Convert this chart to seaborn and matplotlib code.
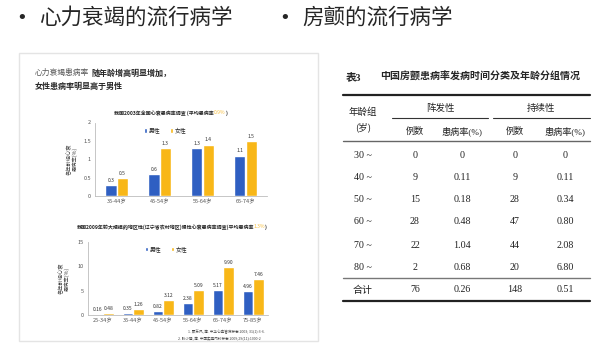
import pandas as pd
import matplotlib.pyplot as plt
import seaborn as sns
from matplotlib.lines import Line2D
from matplotlib.patches import Rectangle

# chart 1: 2003 survey
ages1 = ["35-44岁", "45-54岁", "55-64岁", "65-74岁"]
male1 = [0.3, 0.6, 1.3, 1.1]
female1 = [0.5, 1.3, 1.4, 1.5]

# chart 2: 2009 Liaoning survey
ages2 = ["25-34岁", "35-44岁", "45-54岁", "55-64岁", "65-74岁", "75-85岁"]
male2 = [0.16, 0.35, 0.82, 2.38, 5.17, 4.96]
female2 = [0.48, 1.26, 3.12, 5.09, 9.90, 7.46]

# table 3
row_labels = ["30 ~", "40 ~", "50 ~", "60 ~", "70 ~", "80 ~", "合计"]
par_n = ["0", "9", "15", "28", "22", "2", "76"]
par_rate = ["0", "0.11", "0.18", "0.48", "1.04", "0.68", "0.26"]
per_n = ["0", "9", "28", "47", "44", "20", "148"]
per_rate = ["0", "0.11", "0.34", "0.80", "2.08", "6.80", "0.51"]

sns.set_style("white")
plt.rcParams['font.family'] = ['Noto Sans CJK SC', 'DejaVu Sans']

W, H = 610, 354
fig = plt.figure(figsize=(6.1, 3.54), dpi=100)


def fx(x):
    return x / W


def fy(y):
    return 1 - y / H


def txt(x, y, s, **kw):
    fig.text(fx(x), fy(y), s, **kw)


def hline(x0, x1, y, lw=1.0, color="#333333"):
    fig.add_artist(Line2D([fx(x0), fx(x1)], [fy(y), fy(y)], lw=lw, color=color,
                          transform=fig.transFigure))


palette = {"男性": "#2f5fc2", "女性": "#f8b718"}

# bullets
txt(22, 18, "•", fontsize=13, ha="center", va="center", family="DejaVu Sans")
txt(39, 18, "心力衰竭的流行病学", fontsize=15.5, va="center")
txt(285, 18, "•", fontsize=13, ha="center", va="center", family="DejaVu Sans")
txt(302, 18, "房颤的流行病学", fontsize=15.5, va="center")

# left panel frame
fig.add_artist(Rectangle((fx(19), fy(341)), fx(318) - fx(19), fy(53) - fy(341),
                         transform=fig.transFigure, fill=False, ec="#e4e4e4", lw=1))

txt(35, 73, "心力衰竭患病率", fontsize=5.6, va="center", color="#555555")
txt(91, 73, "随年龄增高明显增加，", fontsize=5.8, va="center", fontweight="bold")
txt(35, 86, "女性患病率明显高于男性", fontsize=5.8, va="center", fontweight="bold")


def draw_chart(rect, ages, male, female, ymax, ticks, fmt, width, leg_pos):
    df = pd.DataFrame({
        "age": ages * 2,
        "sex": ["男性"] * len(ages) + ["女性"] * len(ages),
        "rate": male + female,
    })
    ax = fig.add_axes(rect)
    sns.barplot(data=df, x="age", y="rate", hue="sex", palette=palette,
                width=width, ax=ax, saturation=1)
    for c in ax.containers:
        ax.bar_label(c, fmt=fmt, fontsize=3.6, padding=1.5, color="#333333")
    ax.set_ylim(0, ymax)
    ax.set_yticks(ticks)
    ax.set_yticklabels([f"{t:g}" for t in ticks])
    ax.set_xlabel("")
    ax.set_ylabel("各年龄组心衰\n患病率(%)", fontsize=3.8, color="#444444", linespacing=1.1)
    ax.yaxis.set_label_coords(-0.1, 0.5)
    ax.tick_params(axis="both", labelsize=4, colors="#555555", length=1.5, width=0.4, pad=1.5)
    ax.tick_params(axis="x", length=0)
    for s in ["top", "right"]:
        ax.spines[s].set_visible(False)
    for s in ["left", "bottom"]:
        ax.spines[s].set_color("#bdbdbd")
        ax.spines[s].set_linewidth(0.6)
    ax.legend(loc="center left", bbox_to_anchor=leg_pos, ncol=2, frameon=False,
              fontsize=4.2, handlelength=0.5, handleheight=0.7, handletextpad=0.3,
              columnspacing=1.6, borderpad=0)
    ax.patch.set_alpha(0)
    return ax


draw_chart([fx(95), fy(196), fx(267) - fx(95), fy(122.5) - fy(196)],
           ages1, male1, female1, 2, [0, 0.5, 1, 1.5, 2], "%.1f", 0.52, (0.27, 0.89))
draw_chart([fx(88), fy(315), fx(268) - fx(88), fy(242) - fy(315)],
           ages2, male2, female2, 15, [0, 5, 10, 15], "%.2f", 0.7, (0.3, 0.9))

# chart titles
txt(214, 113, "我国2003年全国心衰患病率调查 (平均患病率", fontsize=3.6, ha="right",
    va="center", fontweight="bold")
txt(214, 113, "0.9%", fontsize=3.6, ha="left", va="center", color="#f8c040")
txt(226, 113, ")", fontsize=3.6, ha="left", va="center", fontweight="bold")
txt(254, 227, "我国2009年较大规模的地区性(辽宁省农村地区)慢性心衰患病率调查(平均患病率",
    fontsize=3.6, ha="right", va="center", fontweight="bold")
txt(254, 227, "1.3%", fontsize=3.6, ha="left", va="center", color="#f8c040")
txt(265, 227, ")", fontsize=3.6, ha="left", va="center", fontweight="bold")

# references
txt(188, 332, "1. 顾东风, 等. 中华心血管病杂志 2003; 31(1):3-6.", fontsize=2.6,
    va="center", color="#444444")
txt(178, 339, "2. 张小强, 等. 中国实用内科杂志 2009;29(11):1000-2", fontsize=2.6,
    va="center", color="#444444")

# table
tfam = ["Liberation Serif", "Noto Sans CJK SC"]
txt(346, 77, "表3", fontsize=7.5, va="center", fontweight="bold", family=tfam)
txt(380, 77, "中国房颤患病率发病时间分类及年龄分组情况", fontsize=7.2, va="center",
    fontweight="bold")
hline(343, 590, 95, lw=1.6, color="#222222")
txt(363, 112, "年龄组", fontsize=6.8, ha="center", va="center", color="#222222")
txt(363, 127, "(岁)", fontsize=6.8, ha="center", va="center", color="#222222")
txt(440, 108, "阵发性", fontsize=6.8, ha="center", va="center", color="#222222")
txt(541, 108, "持续性", fontsize=6.8, ha="center", va="center", color="#222222")
hline(392, 488, 118, lw=0.8)
hline(493, 590, 118, lw=0.8)
col_x = [415, 462, 515, 565]
for x, s in zip(col_x, ["例数", "患病率(%)", "例数", "患病率(%)"]):
    txt(x, 131, s, fontsize=6.6, ha="center", va="center", color="#222222", family=tfam)
hline(343, 590, 141, lw=1.0, color="#666666")
row_y = [156, 177, 199, 222, 245, 268, 290]
for i, y in enumerate(row_y):
    txt(363, y, row_labels[i], fontsize=7.2, ha="center", va="center", family=tfam,
        color="#222222")
    for x, col in zip(col_x, [par_n, par_rate, per_n, per_rate]):
        txt(x, y, col[i], fontsize=7.2, ha="center", va="center", family=tfam,
            color="#222222")
hline(343, 590, 278, lw=1.0, color="#777777")
hline(343, 590, 301, lw=1.6, color="#222222")

fig.savefig("out.png", dpi=100)
